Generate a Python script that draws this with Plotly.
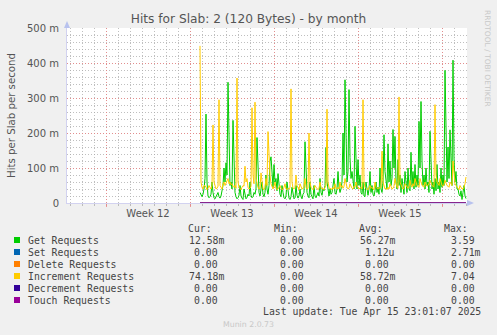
import pandas as pd
import plotly.graph_objects as go

# ---------------- data (values in milli-hits per second, 2-hour steps) ----------------
start_time = "2025-03-24 20:00"
step_hours = 2

get_requests = [
    30, 22, 18, 25, 40, 70, 254, 60, 20, 15,
    18, 25, 60, 30, 15, 12, 20, 28, 30, 18,
    14, 20, 35, 50, 100, 60, 115, 80, 345, 120,
    50, 60, 40, 236, 90, 30, 18, 12, 15, 22,
    50, 20, 14, 10, 40, 18, 12, 16, 25, 20,
    60, 22, 15, 18, 30, 25, 40, 187, 70, 30,
    20, 35, 60, 25, 18, 30, 80, 40, 25, 50,
    119, 132, 90, 45, 110, 60, 70, 35, 84, 40,
    25, 18, 50, 30, 15, 12, 20, 60, 25, 14,
    10, 18, 45, 20, 12, 15, 50, 22, 14, 20,
    40, 18, 12, 25, 30, 175, 80, 30, 20, 15,
    60, 25, 18, 12, 50, 20, 15, 25, 30, 20,
    70, 30, 22, 40, 35, 50, 158, 60, 30, 20,
    40, 25, 30, 45, 70, 30, 25, 40, 90, 45,
    30, 40, 60, 200, 80, 352, 120, 60, 90, 324,
    130, 70, 90, 50, 40, 219, 100, 40, 124, 50,
    80, 30, 25, 60, 20, 18, 60, 30, 22, 40,
    90, 30, 50, 25, 20, 35, 60, 30, 45, 25,
    100, 40, 30, 60, 195, 90, 50, 40, 169, 60,
    120, 50, 70, 210, 100, 190, 60, 40, 124, 50,
    80, 30, 70, 40, 25, 90, 45, 30, 100, 40,
    35, 145, 50, 90, 40, 110, 45, 80, 50, 233,
    100, 290, 120, 50, 80, 40, 100, 50, 60, 30,
    205, 80, 40, 60, 25, 70, 35, 110, 40, 60,
    30, 100, 45, 80, 50, 379, 140, 60, 160, 70,
    209, 120, 50, 408, 129, 60, 90, 40, 40, 25,
    20, 35, 10, 30, 50, 20, 12.58,
]

increment_requests = [
    449, 60, 45, 40, 50, 50, 45, 38, 42, 50,
    45, 40, 50, 223, 60, 45, 40, 42, 48, 295,
    50, 45, 40, 55, 60, 50, 58, 62, 70, 55,
    60, 52, 55, 48, 45, 50, 42, 357, 60, 45,
    40, 38, 45, 50, 48, 105, 60, 70, 45, 40,
    42, 48, 272, 80, 55, 288, 70, 50, 45, 40,
    42, 86, 50, 40, 38, 45, 70, 50, 204, 133,
    80, 55, 45, 40, 48, 60, 42, 38, 40, 45,
    50, 42, 38, 40, 45, 55, 40, 38, 42, 40,
    45, 326, 60, 42, 40, 45, 80, 50, 42, 38,
    55, 45, 40, 42, 48, 70, 45, 40, 42, 200,
    60, 45, 40, 38, 42, 50, 45, 40, 38, 42,
    60, 45, 40, 42, 38, 45, 50, 268, 60, 45,
    40, 42, 38, 45, 40, 55, 42, 40, 45, 40,
    60, 45, 50, 42, 48, 70, 55, 45, 40, 42,
    55, 45, 42, 40, 48, 45, 60, 50, 45, 40,
    42, 45, 40, 295, 60, 45, 42, 40, 38, 45,
    50, 42, 45, 40, 38, 60, 45, 42, 40, 45,
    42, 45, 148, 60, 45, 40, 42, 38, 45, 40,
    55, 45, 40, 42, 48, 70, 50, 45, 42, 303,
    60, 48, 45, 40, 42, 55, 50, 45, 42, 48,
    65, 50, 45, 55, 48, 70, 55, 50, 48, 45,
    70, 55, 50, 48, 45, 60, 52, 48, 50, 55,
    65, 55, 50, 48, 45, 281, 80, 60, 55, 50,
    70, 55, 50, 48, 52, 65, 55, 50, 48, 45,
    60, 55, 50, 120, 70, 55, 50, 45, 40, 38,
    50, 45, 40, 40, 45, 55, 74.18,
]

zero_series = [0] * len(get_requests)

series_names = ["Get Requests", "Set Requests", "Delete Requests",
                "Increment Requests", "Decrement Requests", "Touch Requests"]
series_colors = ["#00CC00", "#0066B3", "#FF8000", "#FFCC00", "#330099", "#990099"]
series_values = [get_requests, zero_series, zero_series,
                 increment_requests, zero_series, zero_series]

cur_vals = ["12.58m", "0.00\u00a0", "0.00\u00a0", "74.18m", "0.00\u00a0", "0.00\u00a0"]
min_vals = ["0.00\u00a0"] * 6
avg_vals = ["56.27m", "1.12u", "0.00\u00a0", "58.72m", "0.00\u00a0", "0.00\u00a0"]
max_vals = ["3.59\u00a0", "2.71m", "0.00\u00a0", "7.04\u00a0", "0.00\u00a0", "0.00\u00a0"]

week_starts = ["2025-03-17", "2025-03-24", "2025-03-31", "2025-04-07", "2025-04-14"]
week_label_pos = ["2025-03-20 12:00", "2025-03-27 12:00", "2025-04-03 12:00", "2025-04-10 12:00"]
week_labels = ["Week 12", "Week 13", "Week 14", "Week 15"]

y_tickvals = [0, 100, 200, 300, 400, 500]
y_ticktext = ["0", "100 m", "200 m", "300 m", "400 m", "500 m"]

x_range = ["2025-03-13 18:00", "2025-04-16 02:00"]

# ---------------- layout helpers ----------------
W, H = 497, 335
L, R, T, B = 67, 467, 28, 203


def px(x):
    return (x - L) / (R - L)


def py(y):
    return (B - y) / (B - T)


times = pd.date_range(start_time, periods=len(get_requests), freq=f"{step_hours}h")

fig = go.Figure()
for name, color, vals in zip(series_names, series_colors, series_values):
    fig.add_trace(go.Scatter(x=times, y=vals, mode="lines", name=name,
                             line=dict(color=color, width=1), showlegend=False,
                             hoverinfo="skip"))

# empty trace to host the label axis
fig.add_trace(go.Scatter(x=[], y=[], xaxis="x2", yaxis="y", showlegend=False, hoverinfo="skip"))

TXT = "#555555"
FONT = "DejaVu Sans"
MONO = "DejaVu Sans Mono"
MAJ = "rgba(235,130,130,0.8)"
MIN = "rgba(170,170,170,0.75)"
DASH = "1px,2px"

fig.update_layout(
    width=W, height=H,
    margin=dict(l=L, r=W - R, t=T, b=H - B, pad=0),
    paper_bgcolor="#F0F0F0", plot_bgcolor="#FFFFFF",
    title=dict(text="Hits for Slab: 2 (120 Bytes) - by month", x=0.5, xanchor="center",
               y=1 - 19 / H, yanchor="middle", font=dict(family=FONT, size=12.2, color=TXT)),
    xaxis=dict(type="date", range=x_range, tickvals=week_starts, showticklabels=False,
               showgrid=True, gridcolor=MAJ, griddash=DASH, gridwidth=1,
               ticks="outside", ticklen=3, tickcolor=MAJ,
               minor=dict(dtick=86400000, tick0="2025-03-17", showgrid=True,
                          gridcolor=MIN, griddash=DASH, gridwidth=1,
                          ticks="outside", ticklen=2, tickcolor=MIN),
               showline=True, linecolor="#D2D2F0", linewidth=1, zeroline=False,
               fixedrange=True),
    xaxis2=dict(type="date", range=x_range, overlaying="x", anchor="y", side="bottom",
                tickvals=week_label_pos, ticktext=week_labels, showgrid=False, ticks="",
                showline=False, zeroline=False,
                tickfont=dict(family=FONT, size=10, color=TXT), ticklabelstandoff=3),
    yaxis=dict(range=[0, 500], tickvals=y_tickvals, ticktext=y_ticktext,
               showgrid=True, gridcolor=MAJ, griddash=DASH, gridwidth=1,
               minor=dict(dtick=20, tick0=0, showgrid=True,
                          gridcolor=MIN, griddash=DASH, gridwidth=1),
               ticks="", tickfont=dict(family=FONT, size=10, color=TXT), ticklabelstandoff=5,
               showline=True, linecolor="#D2D2F0", linewidth=1, zeroline=False,
               fixedrange=True),
)

ann = []
# y-axis title
ann.append(dict(text="Hits per Slab per second", x=px(11), y=py(115), xref="paper", yref="paper",
                textangle=-90, showarrow=False, xanchor="center", yanchor="middle",
                font=dict(family=FONT, size=10.2, color=TXT)))
# right vertical credit
ann.append(dict(text="RRDTOOL / TOBI OETIKER", x=px(487), y=py(58), xref="paper", yref="paper",
                textangle=90, showarrow=False, xanchor="center", yanchor="middle",
                font=dict(family=FONT, size=7.5, color="#C8C8C8")))

# legend table
col_right = [226, 311.7, 396.7, 482.7]
hdr_right = [213.5, 299.5, 384.5, 470]
headers = ["Cur:", "Min:", "Avg:", "Max:"]
LC = "#444444"
FS = 9.8
for hx, h in zip(hdr_right, headers):
    ann.append(dict(text=h, x=px(hx), y=py(228), xref="paper", yref="paper", showarrow=False,
                    xanchor="right", yanchor="middle", font=dict(family=MONO, size=FS, color=LC)))

row_y = [240, 252, 264, 276, 288, 300]
shapes = []
for i, name in enumerate(series_names):
    yy = row_y[i]
    shapes.append(dict(type="rect", xref="paper", yref="paper",
                       x0=px(14), x1=px(20), y0=py(yy - 3), y1=py(yy + 3),
                       fillcolor=series_colors[i], line=dict(width=0)))
    ann.append(dict(text=name, x=px(26), y=py(yy), xref="paper", yref="paper", showarrow=False,
                    xanchor="left", yanchor="middle", font=dict(family=MONO, size=FS, color=LC)))
    for cx, col in zip(col_right, [cur_vals, min_vals, avg_vals, max_vals]):
        ann.append(dict(text=col[i], x=px(cx), y=py(yy), xref="paper", yref="paper",
                        showarrow=False, xanchor="right", yanchor="middle",
                        font=dict(family=MONO, size=FS, color=LC)))

ann.append(dict(text="Last update: Tue Apr 15 23:01:07 2025", x=px(482.7), y=py(311.5),
                xref="paper", yref="paper", showarrow=False, xanchor="right", yanchor="middle",
                font=dict(family=MONO, size=FS, color=LC)))
ann.append(dict(text="Munin 2.0.73", x=px(248), y=py(324), xref="paper", yref="paper",
                showarrow=False, xanchor="center", yanchor="middle",
                font=dict(family=FONT, size=7.8, color="#C8C8C8")))

# axis arrows
ax_col = "#B8C2EE"
shapes.append(dict(type="path", xref="paper", yref="paper",
                   path=f"M {px(64)} {py(28)} L {px(70)} {py(28)} L {px(67)} {py(21)} Z",
                   fillcolor=ax_col, line=dict(width=0)))
shapes.append(dict(type="path", xref="paper", yref="paper",
                   path=f"M {px(467)} {py(200)} L {px(467)} {py(206)} L {px(474)} {py(203)} Z",
                   fillcolor=ax_col, line=dict(width=0)))

fig.update_layout(annotations=ann, shapes=shapes)

fig.write_html("out.html")
